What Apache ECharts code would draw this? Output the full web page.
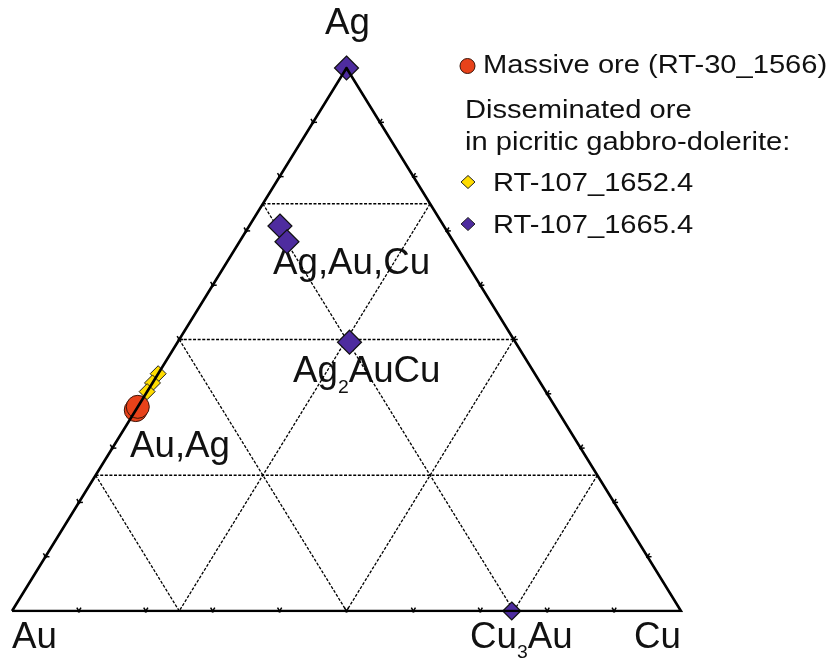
<!DOCTYPE html>
<html>
<head>
<meta charset="utf-8">
<script src="https://cdn.jsdelivr.net/npm/echarts@6/dist/echarts.min.js"></script>
<style>
  html, body { margin: 0; padding: 0; background: #fff; }
  #chart { width: 835px; height: 667px; }
</style>
</head>
<body>
<div id="chart"></div>
<script>
// compositions as [Au, Ag, Cu] fractions
const massiveOre = [[0.630, 0.370, 0.000], [0.624, 0.376, 0.000]];
const sample1652 = [[0.563, 0.437, 0.000], [0.580, 0.420, 0.000], [0.596, 0.404, 0.000]];
const sample1665 = [[0.000, 1.000, 0.000], [0.245, 0.709, 0.046], [0.249, 0.680, 0.071],
                    [0.248, 0.495, 0.257], [0.253, 0.000, 0.747]];
const gridFractions = [0.25, 0.5, 0.75];
const tickFractions = [0.1, 0.2, 0.3, 0.4, 0.5, 0.6, 0.7, 0.8, 0.9];
const vertices = [[1, 0, 0], [0, 0, 1], [0, 1, 0]]; // Au, Cu, Ag

const FONT = '"Liberation Sans", Arial, Helvetica, sans-serif';
const RED = '#e8421a', YELLOW = '#ffdc00', PURPLE = '#4e2c9f';

// ternary -> cartesian (x along Au-Cu, y = Ag)
function toXY([au, ag, cu]) {
  return [cu + ag / 2, ag];
}

// dashed grid segments
const gridSegs = [];
gridFractions.forEach((f) => {
  gridSegs.push([...toXY([1 - f, f, 0]), ...toXY([0, f, 1 - f])]);   // Ag = f
  gridSegs.push([...toXY([f, 1 - f, 0]), ...toXY([f, 0, 1 - f])]);   // Au = f
  gridSegs.push([...toXY([0, 1 - f, f]), ...toXY([1 - f, 0, f])]);   // Cu = f
});

// ticks: point + two directions parallel to the other edges
const ticks = [];
tickFractions.forEach((t) => {
  ticks.push([...toXY([1 - t, 0, t]), 0.5, 1, -0.5, 1]);
  ticks.push([...toXY([1 - t, t, 0]), 1, 0, -0.5, 1]);
  ticks.push([...toXY([0, t, 1 - t]), 1, 0, 0.5, 1]);
});

const measureCtx = document.createElement('canvas').getContext('2d');
function widthOf(text, size) {
  measureCtx.font = size + 'px ' + FONT;
  return measureCtx.measureText(text).width;
}

// pieces: [text, size, drop]
function textRun(pieces, x, baseline, sx) {
  const els = [];
  let cx = x;
  pieces.forEach(([text, size, drop]) => {
    els.push({
      type: 'text', x: cx, y: baseline + (drop || 0) - 0.347 * size, scaleX: sx, silent: true,
      style: {
        text: text, font: size + 'px ' + FONT, fill: '#111',
        textAlign: 'left', align: 'left', textVerticalAlign: 'middle', verticalAlign: 'middle'
      }
    });
    cx += widthOf(text, size) * sx;
  });
  return els;
}

function diamond(cx, cy, hw, hh, fill) {
  return {
    type: 'polygon', silent: true,
    shape: { points: [[cx, cy - hh], [cx + hw, cy], [cx, cy + hh], [cx - hw, cy]] },
    style: { fill: fill, stroke: '#222', lineWidth: 1 }
  };
}

const big = 36, sub = 19, legendSize = 26, legendSx = 1.12;
const graphics = [].concat(
  textRun([['Ag', big]], 325, 37, 1.02),
  textRun([['Au', big]], 12, 651, 1.02),
  textRun([['Cu', big]], 634, 651, 1.02),
  textRun([['Cu', big], ['3', sub, 8], ['Au', big]], 470, 651, 1.02),
  textRun([['Ag,Au,Cu', big]], 273, 277, 1.02),
  textRun([['Ag', big], ['2', sub, 9], ['AuCu', big]], 293, 385, 1.02),
  textRun([['Au,Ag', big]], 130, 460, 1.02),
  [{
    type: 'circle', silent: true, shape: { cx: 467.5, cy: 66, r: 7.5 },
    style: { fill: RED, stroke: '#3a1408', lineWidth: 1 }
  }],
  textRun([['Massive ore (RT-30_1566)', legendSize]], 483, 75, legendSx),
  textRun([['Disseminated ore', legendSize]], 465, 120, legendSx),
  textRun([['in picritic gabbro-dolerite:', legendSize]], 465, 152, legendSx),
  [diamond(468, 182, 7, 6.5, YELLOW)],
  textRun([['RT-107_1652.4', legendSize]], 493, 193, legendSx),
  [diamond(468, 224, 7, 6.5, PURPLE)],
  textRun([['RT-107_1665.4', legendSize]], 493, 235, legendSx)
);

const chart = echarts.init(document.getElementById('chart'), null, { renderer: 'canvas' });

chart.setOption({
  animation: false,
  backgroundColor: '#fff',
  grid: { left: 12, right: 154, top: 68, bottom: 56, containLabel: false, outerBoundsMode: 'none' },
  xAxis: { type: 'value', min: 0, max: 1, show: false },
  yAxis: { type: 'value', min: 0, max: 1, show: false },
  graphic: graphics,
  series: [
    {
      type: 'custom', name: 'grid', silent: true, clip: false,
      data: gridSegs,
      encode: { x: [0, 2], y: [1, 3] },
      renderItem: (params, api) => {
        const p1 = api.coord([api.value(0), api.value(1)]);
        const p2 = api.coord([api.value(2), api.value(3)]);
        return {
          type: 'line',
          shape: { x1: p1[0], y1: p1[1], x2: p2[0], y2: p2[1] },
          style: { stroke: '#000', lineWidth: 1.3, lineDash: [3, 1.6] }
        };
      }
    },
    {
      type: 'line', name: 'edges', silent: true,
      data: [...vertices, vertices[0]].map(toXY),
      symbol: 'none',
      lineStyle: { color: '#000', width: 2.6, join: 'miter' }
    },
    {
      type: 'custom', name: 'ticks', silent: true, clip: false,
      data: ticks,
      encode: { x: 0, y: 1 },
      renderItem: (params, api) => {
        const x = api.value(0), y = api.value(1);
        const p = api.coord([x, y]);
        const len = 4;
        const children = [[api.value(2), api.value(3)], [api.value(4), api.value(5)]].map(([dx, dy]) => {
          const q = api.coord([x + dx * 0.01, y + dy * 0.01]);
          const vx = q[0] - p[0], vy = q[1] - p[1];
          const n = Math.hypot(vx, vy) || 1;
          const ux = vx / n * len, uy = vy / n * len;
          return {
            type: 'line',
            shape: { x1: p[0] - ux * 0.4, y1: p[1] - uy * 0.4, x2: p[0] + ux, y2: p[1] + uy },
            style: { stroke: '#000', lineWidth: 1.5 }
          };
        });
        return { type: 'group', children: children };
      }
    },
    {
      type: 'scatter', name: 'Massive ore (RT-30_1566)', clip: false,
      data: massiveOre.map(toXY),
      symbol: 'circle', symbolSize: 23,
      itemStyle: { color: RED, borderColor: '#3a1408', borderWidth: 1, opacity: 1 }
    },
    {
      type: 'scatter', name: 'RT-107_1652.4', clip: false,
      data: sample1652.map(toXY),
      symbol: 'diamond', symbolSize: 16,
      itemStyle: { color: YELLOW, borderColor: '#222', borderWidth: 1, opacity: 1 }
    },
    {
      type: 'scatter', name: 'RT-107_1665.4', clip: false,
      data: sample1665.map(toXY),
      symbol: 'diamond',
      symbolSize: (val) => (val[1] === 0 ? 18 : 24),
      itemStyle: { color: PURPLE, borderColor: '#111', borderWidth: 1.2, opacity: 1 }
    }
  ]
});
</script>
</body>
</html>
